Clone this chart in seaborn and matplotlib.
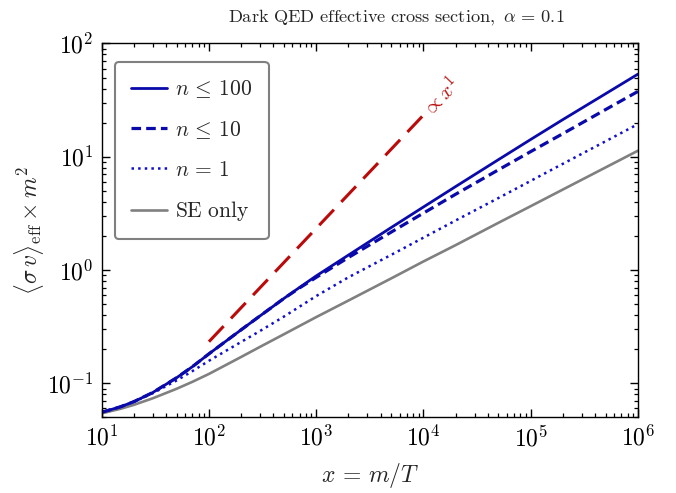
import numpy as np
import pandas as pd
import matplotlib
matplotlib.use("Agg")
import matplotlib.pyplot as plt
import matplotlib.ticker as mticker
import seaborn as sns
from matplotlib.lines import Line2D

# ---- data ----
x_vals = [10, 15, 20, 30, 50, 70, 100, 200, 300, 500, 700, 1e3, 2e3, 5e3,
          1e4, 2e4, 5e4, 1e5, 2e5, 5e5, 1e6]
y_n100 = [0.0555, 0.0621, 0.0689, 0.0830, 0.112, 0.140, 0.182, 0.297, 0.394,
          0.561, 0.702, 0.887, 1.355, 2.37, 3.60, 5.46, 9.42, 14.2, 21.3, 36.0, 53.6]
y_n10 = [0.0555, 0.0621, 0.0689, 0.0830, 0.112, 0.140, 0.182, 0.297, 0.394,
         0.561, 0.695, 0.861, 1.29, 2.16, 3.18, 4.67, 7.66, 11.1, 16.0, 26.1, 37.7]
y_n1 = [0.0555, 0.0621, 0.0687, 0.0818, 0.106, 0.128, 0.158, 0.232, 0.290,
        0.388, 0.475, 0.589, 0.863, 1.36, 1.93, 2.74, 4.32, 6.12, 8.67, 13.7, 19.4]
y_se = [0.0543, 0.0596, 0.0646, 0.0738, 0.0895, 0.103, 0.121, 0.171, 0.210,
        0.271, 0.321, 0.384, 0.538, 0.843, 1.19, 1.66, 2.61, 3.66, 5.14, 8.05, 11.3]
x_ref = [100, 1e4]
y_ref = [0.233, 23.3]

labels = [r"$n \,\leq\, 100$", r"$n \,\leq\, 10$", r"$n \,=\, 1$", r"$\mathrm{SE\ only}$"]
title = r"$\mathrm{Dark\ QED\ effective\ cross\ section},\ \alpha \,=\, 0.1$"
xlabel = r"$x \,=\, m/T$"
ylabel = r"$\langle \sigma\, v\rangle_{\rm eff} \times m^2$"
ref_label = r"$\propto x^1$"

sns.set_theme(style="ticks")
plt.rcParams["mathtext.fontset"] = "cm"
plt.rcParams["font.family"] = ["DejaVu Serif"]

fig = plt.figure(figsize=(6.76, 4.93), dpi=100)
ax = fig.add_axes([0.1504, 0.1533, 0.7933, 0.7586])

blue = "#0a0aaa"
grey = "#808080"
red = "#bb0a0a"

df = pd.DataFrame({"x": x_vals, "n100": y_n100, "n10": y_n10, "n1": y_n1, "se": y_se})
dref = pd.DataFrame({"x": x_ref, "y": y_ref})

styles = {
    "n100": dict(color=blue, lw=2.0, linestyle="-"),
    "n10": dict(color=blue, lw=2.3, linestyle=(0, (3.0, 1.6))),
    "n1": dict(color="#1010cc", lw=1.8, linestyle=(0, (1, 1.65))),
    "se": dict(color=grey, lw=1.9, linestyle="-"),
}
for col in ["se", "n1", "n10", "n100"]:
    sns.lineplot(data=df, x="x", y=col, ax=ax, estimator=None, sort=False, **styles[col])
sns.lineplot(data=dref, x="x", y="y", ax=ax, estimator=None, sort=False,
             color=red, lw=2.2, linestyle=(0, (7, 3.5)))

ax.set_xscale("log")
ax.set_yscale("log")
ax.set_xlim(10, 1e6)
ax.set_ylim(0.05, 100)

fmt = mticker.FuncFormatter(lambda v, p: r"$10^{%d}$" % int(round(np.log10(v))))
ax.xaxis.set_major_formatter(fmt)
ax.yaxis.set_major_formatter(fmt)
ax.xaxis.set_minor_formatter(mticker.NullFormatter())
ax.yaxis.set_minor_formatter(mticker.NullFormatter())

ax.text(1.45e4, 34, ref_label, color=red, rotation=46.5, ha="center", va="center",
        fontsize=15, rotation_mode="anchor")

ax.set_title(title, fontsize=13.2, pad=15, x=0.55)
ax.set_xlabel(xlabel, fontsize=17, labelpad=7)
ax.set_ylabel(ylabel, fontsize=17, labelpad=1)

ax.tick_params(which="both", direction="in", top=True, right=True, colors="black")
ax.tick_params(which="major", length=6, width=1, labelsize=17, pad=6)
ax.tick_params(which="minor", length=3.2, width=0.9)
for s in ax.spines.values():
    s.set_color("black")
    s.set_linewidth(1.0)

handles = [Line2D([], [], **styles[c]) for c in ["n100", "n10", "n1", "se"]]
leg = ax.legend(handles, labels, loc="upper left", bbox_to_anchor=(0.025, 0.95),
                borderaxespad=0, fontsize=15.5, frameon=True, fancybox=True,
                framealpha=1, edgecolor=grey, handlelength=1.65, handletextpad=0.4,
                labelspacing=0.85, borderpad=0.75)
leg.get_frame().set_linewidth(1.5)

fig.savefig("out.png", dpi=100)
